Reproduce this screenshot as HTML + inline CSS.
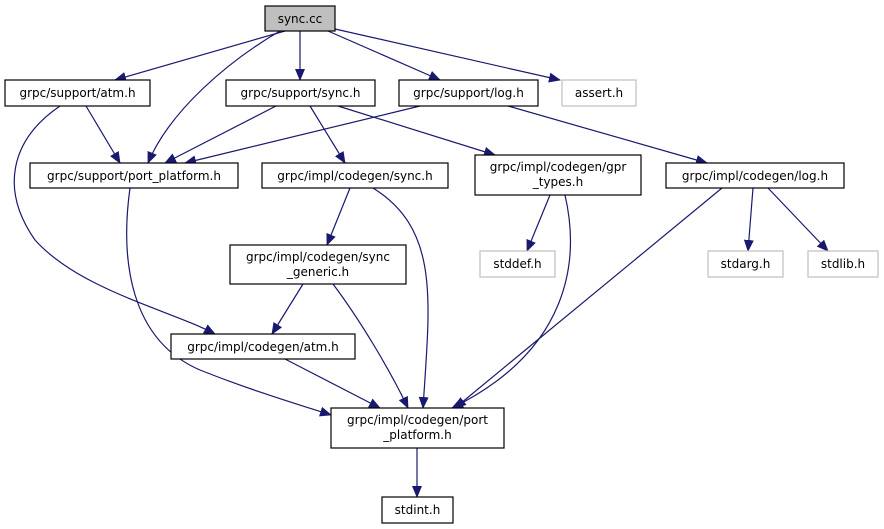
<!DOCTYPE html>
<html><head><meta charset="utf-8"><style>
html,body{margin:0;padding:0;background:#fff;}
svg{display:block;font-family:"DejaVu Sans","Liberation Sans",sans-serif;font-size:12px;}
</style></head><body>
<svg width="884" height="529" viewBox="0 0 884 529" xmlns="http://www.w3.org/2000/svg">
<defs><marker id="a" markerWidth="12" markerHeight="10" refX="11" refY="5" orient="auto" markerUnits="userSpaceOnUse"><path d="M0,0 L12,5 L0,10 z" fill="#191970"/></marker></defs>
<g fill="none" stroke="#191970" stroke-width="1.2" marker-end="url(#a)">
<path d="M285,31 L115,80"/>
<path d="M280,31 C230,60 170,110 148,163"/>
<path d="M300,31 L300,80"/>
<path d="M328,31 L440,80"/>
<path d="M335,29 L560,80"/>
<path d="M86,106 L120,163"/>
<path d="M60,106 C10,140 0,190 35,240 C80,290 170,310 215,334"/>
<path d="M276,106 L165,163"/>
<path d="M310,106 L345,163"/>
<path d="M338,106 L495,155"/>
<path d="M420,106 L185,163"/>
<path d="M508,106 L707,163"/>
<path d="M130,188 C120,260 130,340 200,370 C250,390 300,405 331,415"/>
<path d="M350,188 L327,245"/>
<path d="M373,188 C440,230 430,300 423,408"/>
<path d="M550,195 L527,251"/>
<path d="M565,195 C580,260 570,350 452,408"/>
<path d="M722,188 L455,408"/>
<path d="M753,188 L748,251"/>
<path d="M768,188 L828,251"/>
<path d="M303,284 L272,334"/>
<path d="M333,284 C360,320 390,370 408,408"/>
<path d="M285,359 L380,408"/>
<path d="M417,448 L417,497"/>
</g>
<g stroke-width="1.2">
<rect x="265" y="6" width="70" height="25" fill="#bfbfbf" stroke="#000"/>
<rect x="5" y="80" width="145" height="26" fill="#fff" stroke="#000"/>
<rect x="226" y="80" width="149" height="26" fill="#fff" stroke="#000"/>
<rect x="399" y="80" width="139" height="26" fill="#fff" stroke="#000"/>
<rect x="562" y="80" width="74" height="26" fill="#fff" stroke="#bfbfbf"/>
<rect x="30" y="163" width="208" height="25" fill="#fff" stroke="#000"/>
<rect x="262" y="163" width="186" height="25" fill="#fff" stroke="#000"/>
<rect x="475" y="155" width="166" height="40" fill="#fff" stroke="#000"/>
<rect x="666" y="163" width="178" height="25" fill="#fff" stroke="#000"/>
<rect x="480" y="251" width="75" height="26" fill="#fff" stroke="#bfbfbf"/>
<rect x="708" y="251" width="75" height="26" fill="#fff" stroke="#bfbfbf"/>
<rect x="808" y="251" width="70" height="26" fill="#fff" stroke="#bfbfbf"/>
<rect x="230" y="245" width="176" height="39" fill="#fff" stroke="#000"/>
<rect x="171" y="334" width="184" height="25" fill="#fff" stroke="#000"/>
<rect x="331" y="408" width="173" height="40" fill="#fff" stroke="#000"/>
<rect x="382" y="497" width="71" height="26" fill="#fff" stroke="#000"/>
</g>
<g fill="#000" text-anchor="middle">
<text x="300" y="23">sync.cc</text>
<text x="77.5" y="97">grpc/support/atm.h</text>
<text x="300.5" y="97">grpc/support/sync.h</text>
<text x="468.5" y="97">grpc/support/log.h</text>
<text x="599" y="97">assert.h</text>
<text x="134" y="180">grpc/support/port_platform.h</text>
<text x="355" y="180">grpc/impl/codegen/sync.h</text>
<text x="558" y="171">grpc/impl/codegen/gpr</text>
<text x="558" y="186">_types.h</text>
<text x="755" y="180">grpc/impl/codegen/log.h</text>
<text x="517.5" y="268">stddef.h</text>
<text x="745.5" y="268">stdarg.h</text>
<text x="843" y="268">stdlib.h</text>
<text x="318" y="261">grpc/impl/codegen/sync</text>
<text x="318" y="276">_generic.h</text>
<text x="263" y="351">grpc/impl/codegen/atm.h</text>
<text x="417.5" y="424">grpc/impl/codegen/port</text>
<text x="417.5" y="439">_platform.h</text>
<text x="417.5" y="514">stdint.h</text>
</g>
</svg>
</body></html>
